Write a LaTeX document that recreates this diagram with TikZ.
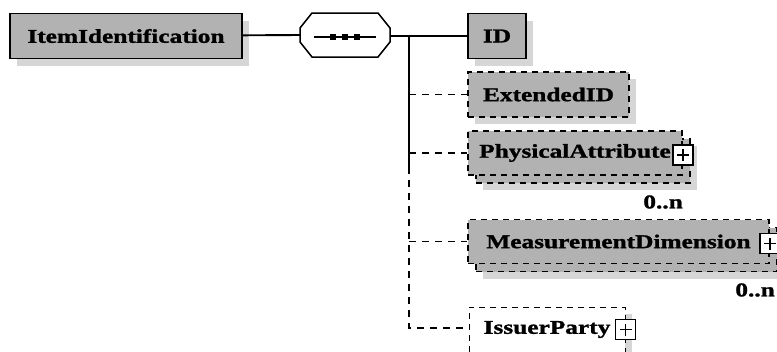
\documentclass[tikz,border=0pt]{standalone}
\usepackage{fontspec}
\newfontfamily\xsdfont[FakeStretch=1.3, FakeBold=1.4]{Liberation Serif}
\usetikzlibrary{shadows}
\definecolor{xsdgray}{RGB}{178,178,178}
\definecolor{xsdshadow}{RGB}{214,214,214}
\tikzset{
  elem/.style={
    rectangle, draw=black, line width=1.9pt, fill=xsdgray,
    font=\xsdfont\bfseries\fontsize{19.5}{22}\selectfont,
    inner sep=0pt, minimum height=45pt,
    general shadow={fill=xsdshadow, shadow xshift=7pt, shadow yshift=-7pt}
  },
  optelem/.style={elem, dash pattern=on 6pt off 5pt},
  multelem/.style={
    rectangle, draw=black, line width=1.9pt, fill=xsdgray,
    dash pattern=on 6pt off 5pt,
    font=\xsdfont\bfseries\fontsize{19.5}{22}\selectfont,
    inner sep=0pt, minimum height=44pt,
    general shadow={fill=xsdshadow, shadow xshift=15pt, shadow yshift=-15pt},
    general shadow={fill=xsdgray, draw=black, shadow xshift=8pt, shadow yshift=-8pt}
  },
  looseelem/.style={elem, fill=white, line width=1pt, dash pattern=on 6pt off 5pt},
  seqbox/.style={rectangle, draw=none, inner sep=0pt, minimum width=90pt, minimum height=44pt},
  octagon/.style={draw=black, line width=1.5pt, fill=white},
  plusbox/.style={
    rectangle, draw=black, line width=1.4pt, fill=white, minimum size=20pt, inner sep=0pt,
    path picture={
      \draw[line width=1.4pt] ([xshift=-6pt]path picture bounding box.center) -- ([xshift=6pt]path picture bounding box.center);
      \draw[line width=1.4pt] ([yshift=-6pt]path picture bounding box.center) -- ([yshift=6pt]path picture bounding box.center);
    }
  },
  mult/.style={font=\xsdfont\bfseries\fontsize{19.5}{22}\selectfont, inner sep=0pt},
  conn/.style={line width=1.9pt, draw=black},
  optconn/.style={conn, dash pattern=on 7pt off 6pt}
}
\begin{document}
\begin{tikzpicture}[x=1pt, y=-1pt]
\useasboundingbox (0,0) rectangle (777,351);

% root and sequence
\node[elem, minimum width=232pt] (item) at (126,36) {ItemIdentification};
\node[seqbox] (seq) at (345,35) {};
\fill[xsdshadow, shift={(8,8)}] (seq.center) +(-45,-7) -- +(-33,-22) -- +(33,-22) -- +(45,-7)
  -- +(45,7) -- +(33,22) -- +(-33,22) -- +(-45,7) -- cycle;
\draw[octagon] (seq.center) +(-45,-7) -- +(-33,-22) -- +(33,-22) -- +(45,-7)
  -- +(45,7) -- +(33,22) -- +(-33,22) -- +(-45,7) -- cycle;
\draw[line width=1.5pt] ([xshift=-31pt, yshift=-2pt]seq.center) -- ([xshift=31pt, yshift=-2pt]seq.center);
\foreach \dx in {-12,0,12}
  \fill ([xshift=\dx pt, yshift=-2pt]seq.center) +(-3,-3) rectangle +(3,3);

% children
\node[elem, minimum width=58pt] (id) at (497,36) {ID};
\node[optelem, minimum width=161pt] (ext) at (548.5,94.5) {ExtendedID};
\node[multelem, minimum width=214pt] (phys) at (575,153) {PhysicalAttribute};
\node[multelem, minimum width=301pt] (meas) at (618.5,241.5) {MeasurementDimension};
\node[looseelem, minimum width=156pt] (issuer) at (547,329.5) {IssuerParty};

% expand boxes
\node[plusbox] (physplus) at ([yshift=-2pt]phys.east) {};
\node[plusbox] (measplus) at ([yshift=-2pt]meas.east) {};
\node[plusbox] (issuerplus) at (issuer.east) {};

% multiplicities
\node[mult, anchor=east] (physmult) at (683,202) {0..n};
\node[mult, anchor=east] (measmult) at (775,290) {0..n};

% connectors
\coordinate (forktop) at (409,36);
\coordinate (forkmid) at (409,167);
\coordinate (forkbot) at (409,328);
\draw[conn] (item) -- (seq.west);
\draw[conn] (seq.east |- forktop) -- (forktop) -- (id);
\draw[conn] (forktop) -- (forkmid);
\draw[optconn] (forkmid) -- (forkbot) -- (forkbot -| issuer.west);
\foreach \n in {ext,phys,meas}
  \draw[optconn] (forktop |- \n.west) -- (\n.west);

\end{tikzpicture}
\end{document}
